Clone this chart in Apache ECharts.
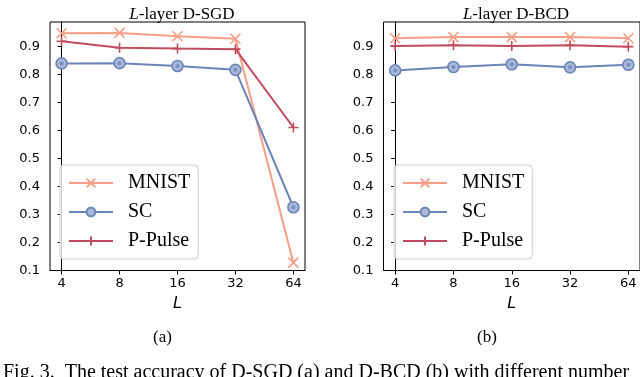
<!DOCTYPE html>
<html>
<head>
<meta charset="utf-8">
<script src="https://cdn.jsdelivr.net/npm/echarts@6/dist/echarts.min.js"></script>
<style>
  html, body { margin: 0; padding: 0; background: #fff; }
  #chart { width: 640px; height: 377px; }
</style>
</head>
<body>
<div id="chart"></div>
<script>
// number of layers L (evenly spaced, log2)
var layers = ['4', '8', '16', '32', '64'];
var yTicks = [0.1, 0.2, 0.3, 0.4, 0.5, 0.6, 0.7, 0.8, 0.9];

// (a) L-layer D-SGD
var sgdMnist = [0.948, 0.949, 0.937, 0.928, 0.128];
var sgdSc = [0.840, 0.841, 0.831, 0.817, 0.326];
var sgdPulse = [0.919, 0.896, 0.893, 0.891, 0.611];

// (b) L-layer D-BCD
var bcdMnist = [0.930, 0.934, 0.934, 0.934, 0.930];
var bcdSc = [0.815, 0.827, 0.837, 0.826, 0.835];
var bcdPulse = [0.902, 0.905, 0.902, 0.905, 0.900];

var cMnist = '#f89e87';
var cSc = '#6c84b8';
var cPulse = '#c04c5e';

var symX = 'path://M0,0L10,10M10,0L0,10';
var symPlus = 'path://M5,0L5,10M0,5L10,5';

function pts(arr) {
  return arr.map(function (v, i) { return [i, v]; });
}

var chart = echarts.init(document.getElementById('chart'));

function xAxisCfg(idx) {
  return {
    type: 'value', gridIndex: idx, min: -0.2, max: 4.2,
    name: 'L', nameLocation: 'middle', nameGap: 22,
    nameTextStyle: { fontFamily: 'DejaVu Sans', fontStyle: 'italic', fontSize: 16, color: '#000' },
    axisLine: { show: true, lineStyle: { color: '#000', width: 1 } },
    axisTick: { show: true, length: 4, lineStyle: { color: '#000' }, customValues: [0, 1, 2, 3, 4] },
    axisLabel: {
      margin: 7, color: '#000', fontFamily: 'DejaVu Sans', fontSize: 13,
      customValues: [0, 1, 2, 3, 4],
      formatter: function (v) { return layers[Math.round(v)]; }
    },
    splitLine: { show: false }
  };
}

function yAxisCfg(idx) {
  return {
    type: 'value', gridIndex: idx, min: 0.1, max: 0.988,
    axisLine: { show: true, lineStyle: { color: '#000', width: 1 } },
    axisTick: { show: true, length: 4, lineStyle: { color: '#000' }, customValues: yTicks },
    axisLabel: {
      margin: 10, color: '#000', fontFamily: 'DejaVu Sans', fontSize: 13,
      customValues: yTicks,
      formatter: function (v) { return v.toFixed(1); }
    },
    splitLine: { show: false }
  };
}

function lineSeries(name, idx, data, color, symbol, size, fill) {
  return {
    name: name, type: 'line', xAxisIndex: idx, yAxisIndex: idx,
    data: pts(data),
    symbol: symbol, symbolSize: size,
    lineStyle: { color: color, width: 2 },
    itemStyle: { color: fill || color, borderColor: color, borderWidth: 1.6 },
    emphasis: { disabled: true },
    animation: false
  };
}

function dotSeries(idx, data) {
  return {
    name: 'SC dot', type: 'scatter', xAxisIndex: idx, yAxisIndex: idx,
    data: pts(data), symbol: 'circle', symbolSize: 4,
    itemStyle: { color: cSc }, silent: true, animation: false, z: 3
  };
}

function legendCfg(left) {
  return {
    orient: 'vertical', left: left, top: 165,
    data: ['MNIST', 'SC', 'P-Pulse'],
    itemWidth: 44, itemHeight: 11, itemGap: 9,
    padding: [8, 8, 8, 8],
    backgroundColor: 'rgba(255,255,255,0.8)',
    borderColor: '#cccccc', borderWidth: 1, borderRadius: 4,
    textStyle: { fontFamily: 'Liberation Serif', fontSize: 20, color: '#000', padding: [0, 0, 0, 10] },
    selectedMode: false
  };
}

function titleCfg(center, label) {
  return {
    text: '{i|L}-layer ' + label,
    left: center, top: 1, textAlign: 'center',
    textStyle: {
      fontFamily: 'Liberation Serif', fontSize: 17, fontWeight: 'normal', color: '#000',
      rich: { i: { fontFamily: 'Liberation Serif', fontStyle: 'italic', fontSize: 17, color: '#000' } }
    }
  };
}

var option = {
  backgroundColor: '#fff',
  title: [titleCfg(177, 'D-SGD'), titleCfg(511, 'D-BCD')],
  grid: [
    { left: 50, top: 22, width: 255, height: 248.5, show: true, borderColor: '#000', borderWidth: 1 },
    { left: 383.5, top: 22, width: 257, height: 248.5, show: true, borderColor: '#000', borderWidth: 1 }
  ],
  xAxis: [xAxisCfg(0), xAxisCfg(1)],
  yAxis: [yAxisCfg(0), yAxisCfg(1)],
  legend: [legendCfg(60), legendCfg(394)],
  series: [
    lineSeries('MNIST', 0, sgdMnist, cMnist, symX, 10),
    lineSeries('SC', 0, sgdSc, cSc, 'circle', 11, '#a9b7d8'),
    dotSeries(0, sgdSc),
    lineSeries('P-Pulse', 0, sgdPulse, cPulse, symPlus, 10),
    lineSeries('MNIST', 1, bcdMnist, cMnist, symX, 10),
    lineSeries('SC', 1, bcdSc, cSc, 'circle', 11, '#a9b7d8'),
    dotSeries(1, bcdSc),
    lineSeries('P-Pulse', 1, bcdPulse, cPulse, symPlus, 10)
  ],
  graphic: [
    { type: 'text', left: 153, top: 329, style: { text: '(a)', font: '17px "Liberation Serif"', fill: '#000' } },
    { type: 'text', left: 477, top: 329, style: { text: '(b)', font: '17px "Liberation Serif"', fill: '#000' } },
    { type: 'text', left: 3, top: 363, style: { text: 'Fig. 3.  The test accuracy of D-SGD (a) and D-BCD (b) with different number', font: '20px "Liberation Serif"', fill: '#000' } }
  ]
};

chart.setOption(option);
</script>
</body>
</html>
